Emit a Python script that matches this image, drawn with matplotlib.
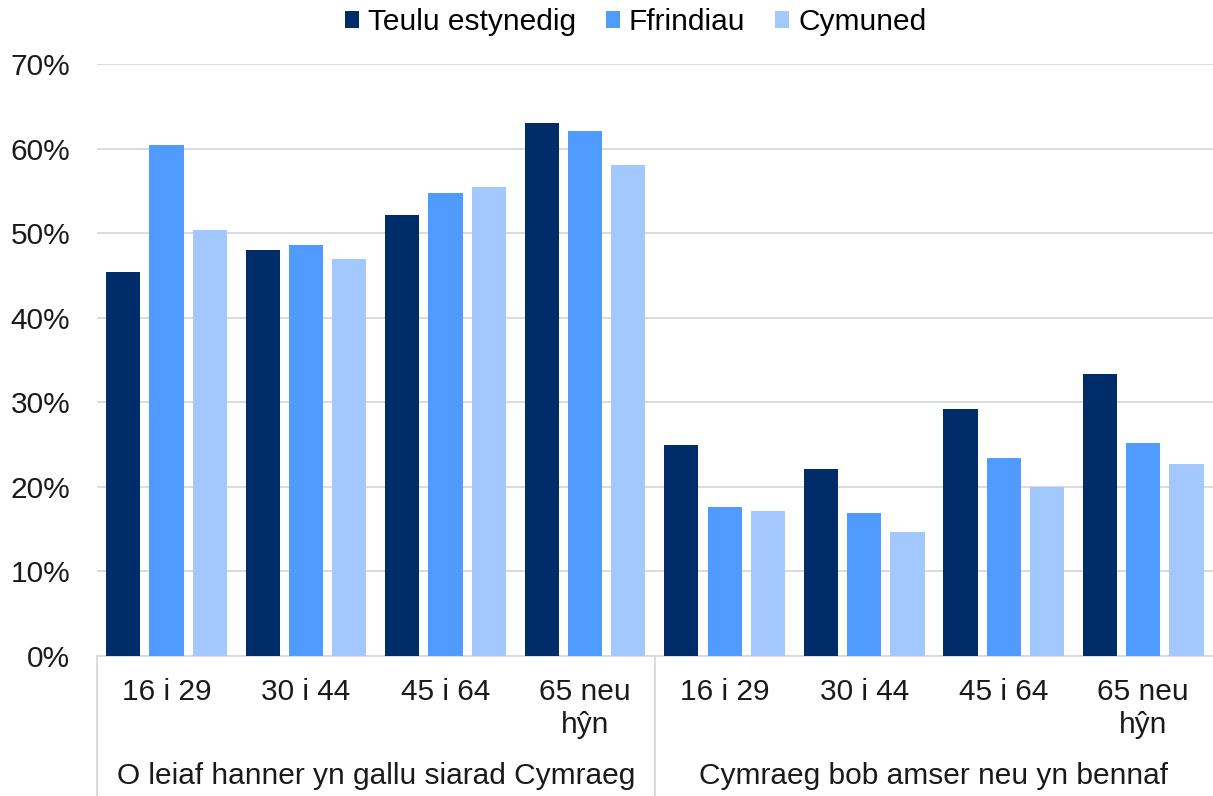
import matplotlib
matplotlib.use("Agg")
import matplotlib.pyplot as plt
import numpy as np
from matplotlib.ticker import PercentFormatter

plt.rcParams['font.family'] = ['Liberation Sans', 'DejaVu Sans']

age_labels = ["16 i 29", "30 i 44", "45 i 64", "65 neu\nhŷn"] * 2
group_labels = ["O leiaf hanner yn gallu siarad Cymraeg", "Cymraeg bob amser neu yn bennaf"]
series_names = ["Teulu estynedig", "Ffrindiau", "Cymuned"]

teulu = [45.4, 48.0, 52.2, 63.0, 25.0, 22.1, 29.2, 33.3]
ffrindiau = [60.4, 48.6, 54.7, 62.1, 17.6, 16.9, 23.4, 25.2]
cymuned = [50.4, 47.0, 55.5, 58.1, 17.1, 14.7, 20.0, 22.7]

colors = ["#002D6A", "#4F9BFF", "#A2C8FF"]

fig = plt.figure(figsize=(12.13, 7.96), dpi=100)
ax = fig.add_axes([96.7 / 1213, 1 - 656 / 796, 1116.3 / 1213, 592 / 796])

x = np.arange(len(age_labels))
width = 0.245
offsets = [-0.31, 0, 0.31]
for vals, off, col, name in zip([teulu, ffrindiau, cymuned], offsets, colors, series_names):
    ax.bar(x + off, vals, width, color=col, label=name, zorder=3)

ax.set_xlim(-0.5, len(age_labels) - 0.5)
ax.set_ylim(0, 70)
ax.set_yticks(np.arange(0, 71, 10))
ax.yaxis.set_major_formatter(PercentFormatter(decimals=0))
ax.grid(axis='y', color='#D9D9D9', linewidth=1.3, zorder=0)
ax.tick_params(axis='y', length=0, pad=19, labelsize=21.5, labelcolor='#1a1a1a')

ax.set_xticks(x)
ax.set_xticklabels(age_labels, linespacing=1.2)
ax.tick_params(axis='x', length=0, pad=16, labelsize=21.5, labelcolor='#1a1a1a')

for s in ['top', 'right', 'left']:
    ax.spines[s].set_visible(False)
ax.spines['bottom'].set_color('#D9D9D9')
ax.spines['bottom'].set_linewidth(1.3)

# group separators and group labels
trans = ax.get_xaxis_transform()
for bx in [-0.5, 3.5]:
    ax.plot([bx, bx], [0, -0.24], color='#D9D9D9', linewidth=1.3,
            transform=trans, clip_on=False)
for i, g in enumerate(group_labels):
    ax.text(i * 4 + 1.5, -0.2027, g, transform=trans, ha='center', va='center',
            fontsize=21.5, color='#1a1a1a')

fig.legend(loc='center', bbox_to_anchor=(0.524, 0.972), ncol=3, frameon=False,
           fontsize=21.5, handlelength=0.47, handleheight=0.47,
           handletextpad=0.3, columnspacing=1.0)

fig.savefig("out.png", dpi=100)
